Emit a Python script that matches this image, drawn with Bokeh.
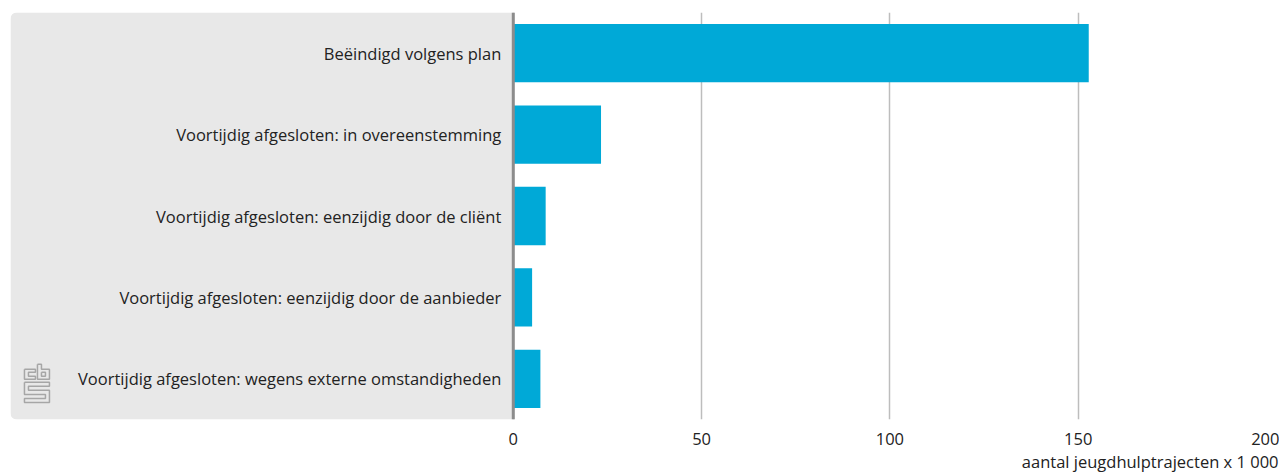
from bokeh.plotting import figure
from bokeh.models import (FactorRange, Range1d, FixedTicker, BoxAnnotation, Span,
                          Title, ColumnDataSource)
from bokeh.core.properties import value
from bokeh.embed import file_html
from bokeh.resources import INLINE

categories = [
    "Beëindigd volgens plan",
    "Voortijdig afgesloten: in overeenstemming",
    "Voortijdig afgesloten: eenzijdig door de cliënt",
    "Voortijdig afgesloten: eenzijdig door de aanbieder",
    "Voortijdig afgesloten: wegens externe omstandigheden",
]
values = [152.8, 23.3, 8.6, 5.0, 7.2]
ticks = [0, 50, 100, 150, 200]
axis_title = "aantal jeugdhulptrajecten x 1 000"

FONT = "Open Sans"
FS = "16.5px"
BAR = "#00a9d7"
TEXT = "#222222"

X_START, X_END = -133.5, 200

p = figure(
    width=1279, height=472,
    y_range=FactorRange(factors=list(reversed(categories)), range_padding=0),
    x_range=Range1d(X_START, X_END),
    output_backend="svg", toolbar_location=None,
    y_axis_location=None,
    min_border_left=10, min_border_right=13, min_border_top=12, min_border_bottom=0,
)
p.outline_line_color = None
p.background_fill_color = "white"

# grey category panel
panel = BoxAnnotation(right=0, fill_color="#e8e8e8", fill_alpha=1.0,
                      line_color=None, border_radius=(6, 0, 0, 6), level="underlay")
p.add_layout(panel)

src = ColumnDataSource(dict(cat=categories, val=values))
p.hbar(y="cat", left=0, right="val", height=0.716, source=src,
       fill_color=BAR, line_color=None)

p.text(x=0, y="cat", text="cat", source=src, x_offset=-12,
       text_align="right", text_baseline="middle",
       text_font=value(FONT), text_font_size=FS, text_color=TEXT)

# vertical axis line at 0
p.add_layout(Span(location=0, dimension="height", line_color="#8c8c8c", line_width=3))

# x axis
p.xaxis.ticker = FixedTicker(ticks=ticks)
p.xaxis.axis_line_color = None
p.xaxis.major_tick_line_color = None
p.xaxis.minor_tick_line_color = None
p.xaxis.major_label_standoff = 7
p.xaxis.major_label_text_font = FONT
p.xaxis.major_label_text_font_size = FS
p.xaxis.major_label_text_color = TEXT

p.xgrid.ticker = FixedTicker(ticks=ticks)
p.xgrid.grid_line_color = "#bdbdbd"
p.xgrid.grid_line_width = 1.5
p.ygrid.grid_line_color = None

t = Title(text=axis_title, align="right", text_font=FONT, text_font_size=FS,
          text_color=TEXT, text_font_style="normal", offset=-12, standoff=0)
p.add_layout(t, "below")

# CBS logo (decoration) drawn in pixel-like local units, converted to plot coords
PX_PER_UNIT = 3.766
X0_PX = 512.8
FRAME_BOTTOM_PX = 418
BAND_PX = 81.0

def to_x(px):
    return (px - X0_PX) / PX_PER_UNIT

def to_y(py):
    return (FRAME_BOTTOM_PX - py) / BAND_PX

logo_paths = [
    [(24, 368), (35, 368), (35, 371), (28, 371), (28, 375), (35, 375), (35, 378), (24, 378), (24, 368)],
    [(37, 363), (41, 363), (41, 368), (49, 368), (49, 378), (37, 378), (37, 363)],
    [(41, 371), (45, 371), (45, 375), (41, 375), (41, 371)],
    [(24, 381), (49, 381), (49, 385), (28, 385), (28, 389), (49, 389), (49, 401),
     (24, 401), (24, 397), (45, 397), (45, 393), (24, 393), (24, 381)],
]
p.multi_line(xs=[[to_x(a) for a, b in path] for path in logo_paths],
             ys=[[to_y(b) for a, b in path] for path in logo_paths],
             line_color="#a6a6a6", line_width=1.5)

open("out.html", "w").write(file_html(p, INLINE))
